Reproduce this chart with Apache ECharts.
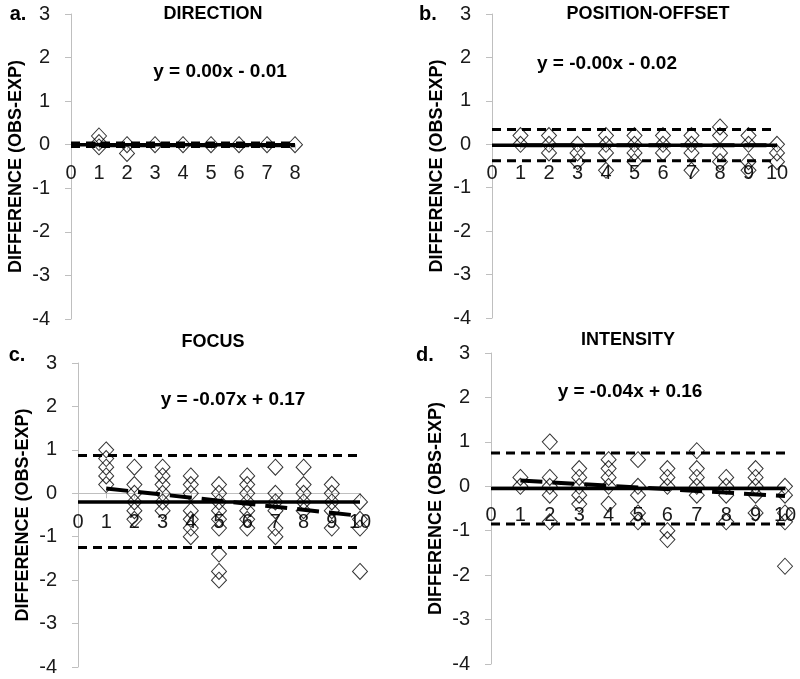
<!DOCTYPE html>
<html><head><meta charset="utf-8">
<script src="https://cdn.jsdelivr.net/npm/echarts@6/dist/echarts.min.js"></script>
<style>html,body{margin:0;padding:0;background:#fff}#c{width:800px;height:679px}</style>
</head><body><div id="c"></div>
<script>
// ---- data ----
const panelTitles = ['DIRECTION', 'POSITION-OFFSET', 'FOCUS', 'INTENSITY'];
const panelLetters = ['a.', 'b.', 'c.', 'd.'];
const equations = ['y = 0.00x - 0.01', 'y = -0.00x - 0.02', 'y = -0.07x + 0.17', 'y = -0.04x + 0.16'];
const yAxisName = 'DIFFERENCE (OBS-EXP)';
const xMax = [8, 10, 10, 10];
const yMin = -4, yMax = 3;
const meanDiff = [0, -0.02, -0.2, -0.05];
const upperLimit = [0.04, 0.34, 0.87, 0.75];
const lowerLimit = [-0.04, -0.38, -1.25, -0.85];
const trendStart = [-0.01, -0.02, 0.11, 0.13];   // value at x = 1
const trendEnd = [-0.01, -0.02, -0.52, -0.22];   // value at x = xMax

const directionPts = [[1,0.2],[1,0.05],[1,-0.05],[2,0],[2,-0.2],[3,0],[4,0],[5,0],[6,0],[7,0],[8,0]];
const positionPts = [
  [1,0.2],[1,0],
  [2,0.2],[2,0],[2,-0.2],
  [3,0],[3,-0.2],[3,-0.4],
  [4,0.2],[4,0],[4,-0.2],[4,-0.6],
  [5,0.2],[5,0],[5,-0.2],[5,-0.4],
  [6,0.2],[6,0],[6,-0.2],
  [7,0.2],[7,0],[7,-0.2],[7,-0.6],
  [8,0.4],[8,0.2],[8,-0.2],[8,-0.4],
  [9,0.2],[9,0],[9,-0.4],[9,-0.6],
  [10,0],[10,-0.2],[10,-0.4]
];
const focusPts = [
  [1,1.0],[1,0.8],[1,0.6],[1,0.4],[1,0.2],
  [2,0.6],[2,0.2],[2,0],[2,-0.2],[2,-0.4],[2,-0.6],
  [3,0.6],[3,0.4],[3,0.2],[3,0],[3,-0.2],[3,-0.4],
  [4,0.4],[4,0.2],[4,0],[4,-0.4],[4,-0.6],[4,-0.8],[4,-1.0],
  [5,0.2],[5,0],[5,-0.2],[5,-0.4],[5,-0.6],[5,-0.8],[5,-1.4],[5,-1.8],[5,-2.0],
  [6,0.4],[6,0.2],[6,0],[6,-0.2],[6,-0.4],[6,-0.6],[6,-0.8],
  [7,0.6],[7,0],[7,-0.2],[7,-0.4],[7,-0.8],[7,-1.0],
  [8,0.6],[8,0.2],[8,0],[8,-0.2],[8,-0.4],
  [9,0.2],[9,0],[9,-0.2],[9,-0.4],[9,-0.8],
  [10,-0.2],[10,-0.6],[10,-0.8],[10,-1.8]
];
const intensityPts = [
  [1,0.2],[1,0],
  [2,1.0],[2,0.2],[2,0],[2,-0.2],[2,-0.8],
  [3,0.4],[3,0.2],[3,0],[3,-0.2],[3,-0.4],
  [4,0.6],[4,0.4],[4,0.2],[4,0],[4,-0.4],
  [5,0.6],[5,0],[5,-0.2],[5,-0.6],[5,-0.8],
  [6,0.4],[6,0.2],[6,0],[6,-1.0],[6,-1.2],
  [7,0.8],[7,0.4],[7,0.2],[7,0],[7,-0.2],
  [8,0.2],[8,0],[8,-0.2],[8,-0.8],
  [9,0.4],[9,0.2],[9,0],[9,-0.2],[9,-0.6],
  [10,0],[10,-0.2],[10,-0.6],[10,-0.8],[10,-1.8]
];
const panelPoints = [directionPts, positionPts, focusPts, intensityPts];

// ---- layout ----
const grids = [
  {left: 71, top: 14, width: 224, height: 305},
  {left: 492, top: 14, width: 285, height: 304},
  {left: 78, top: 363, width: 282, height: 304},
  {left: 491, top: 353, width: 294, height: 311}
];
const titlePos = [[213, 14], [648, 14], [213, 342], [628, 340]];
const eqPos = [[220, 72], [607, 64], [233, 400], [630, 392]];
const letterPos = [[18, 14], [428, 14], [17, 355], [425, 355]];

const FONT = 'Liberation Sans';
const gray = '#bfbfbf';

const option = {
  animation: false,
  backgroundColor: '#fff',
  grid: grids,
  xAxis: grids.map((g, i) => ({
    gridIndex: i, type: 'value', min: 0, max: xMax[i], interval: 1,
    position: 'bottom',
    offset: -g.height * (0 - yMin) / (yMax - yMin),
    axisLine: {show: true, onZero: false, lineStyle: {color: gray, width: 1}},
    axisTick: {show: true, length: 5, lineStyle: {color: gray}},
    axisLabel: {fontFamily: FONT, fontSize: 20, color: '#1a1a1a', margin: 19},
    splitLine: {show: false}
  })),
  yAxis: grids.map((g, i) => ({
    gridIndex: i, type: 'value', min: yMin, max: yMax, interval: 1,
    name: yAxisName, nameLocation: 'middle', nameRotate: 90, nameGap: 46,
    nameTextStyle: {fontFamily: FONT, fontSize: 18, fontWeight: 'bold', color: '#000'},
    axisLine: {show: true, onZero: false, lineStyle: {color: gray, width: 1}},
    axisTick: {show: true, length: 6, lineStyle: {color: gray}},
    axisLabel: {fontFamily: FONT, fontSize: 20, color: '#1a1a1a', margin: 21},
    splitLine: {show: false}
  })),
  graphic: [],
  series: []
};

for (let i = 0; i < 4; i++) {
  option.graphic.push(
    {type: 'text', x: titlePos[i][0], y: titlePos[i][1], style: {text: panelTitles[i], font: 'bold 18px "' + FONT + '"', fill: '#000', textAlign: 'center', textVerticalAlign: 'middle'}},
    {type: 'text', x: eqPos[i][0], y: eqPos[i][1], style: {text: equations[i], font: 'bold 19px "' + FONT + '"', fill: '#000', textAlign: 'center', textVerticalAlign: 'middle'}},
    {type: 'text', x: letterPos[i][0], y: letterPos[i][1], style: {text: panelLetters[i], font: 'bold 20px "' + FONT + '"', fill: '#000', textAlign: 'center', textVerticalAlign: 'middle'}}
  );
  const lineBase = {type: 'line', xAxisIndex: i, yAxisIndex: i, symbol: 'none', silent: true};
  option.series.push(
    {type: 'scatter', xAxisIndex: i, yAxisIndex: i, data: panelPoints[i], symbol: 'diamond', symbolSize: [15, 16],
     itemStyle: {color: 'rgba(255,255,255,0)', borderColor: '#000', borderWidth: 1}},
    Object.assign({}, lineBase, {data: [[0, upperLimit[i]], [xMax[i], upperLimit[i]]], lineStyle: {color: '#000', width: 3, type: [9, 6]}}),
    Object.assign({}, lineBase, {data: [[0, lowerLimit[i]], [xMax[i], lowerLimit[i]]], lineStyle: {color: '#000', width: 3, type: [9, 6]}}),
    Object.assign({}, lineBase, {data: [[0, meanDiff[i]], [xMax[i], meanDiff[i]]], lineStyle: {color: '#000', width: 3.5, type: 'solid'}}),
    Object.assign({}, lineBase, {data: [[1, trendStart[i]], [xMax[i], trendEnd[i]]], lineStyle: {color: '#000', width: 4, type: [22, 10]}})
  );
}

const chart = echarts.init(document.getElementById('c'), null, {renderer: 'canvas'});
chart.setOption(option);
</script></body></html>
